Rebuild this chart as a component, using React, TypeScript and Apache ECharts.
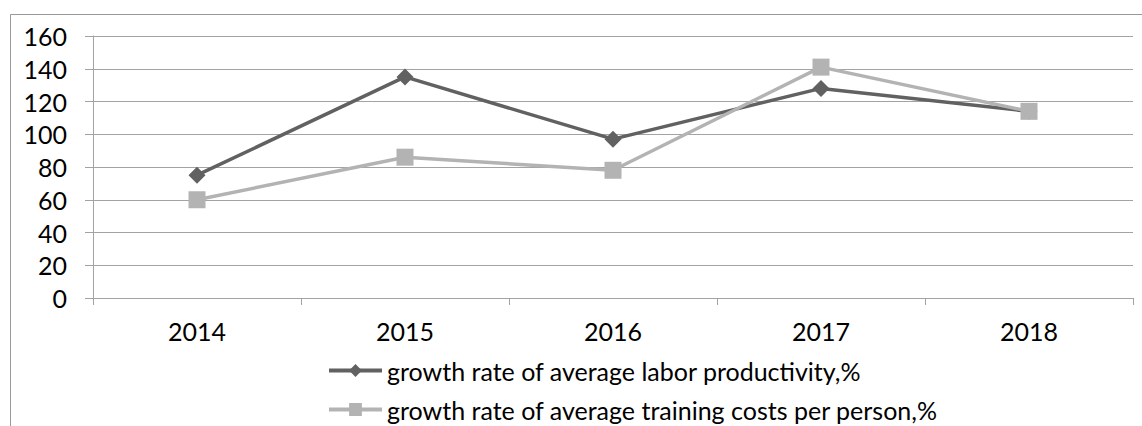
import React, { useEffect, useRef } from "react";
import * as echarts from "echarts";

const years = ["2014", "2015", "2016", "2017", "2018"];
const laborProductivity = [75, 135, 97, 128, 114];
const trainingCosts = [60, 86, 78, 141, 114];
const seriesNames = [
  "growth rate of average labor productivity,%",
  "growth rate of average training costs per person,%",
];

const FONT = "Lato, 'Open Sans', sans-serif";
const AXIS_GRAY = "#a3a3a3";
const FS = 25;

export default function App() {
  const ref = useRef<HTMLDivElement>(null);
  useEffect(() => {
    document.body.style.margin = "0";
    const chart = echarts.init(ref.current!, null, { renderer: "svg" });
    const legendCommon = {
      orient: "horizontal",
      left: 327,
      itemWidth: 53,
      itemHeight: 16,
      padding: 0,
      lineStyle: { width: 4 },
      textStyle: { color: "#000", fontFamily: FONT, fontSize: FS },
    };
    chart.setOption({
      animation: false,
      backgroundColor: "#ffffff",
      grid: { left: 93, right: 9, top: 36, bottom: 128 },
      graphic: [
        {
          type: "polyline",
          shape: { points: [[10.5, 440], [10.5, 14.5], [1150, 14.5]] },
          style: { stroke: "#999999", lineWidth: 1, fill: "none" },
          silent: true,
        },
      ],
      xAxis: {
        type: "category",
        data: years,
        boundaryGap: true,
        axisLine: { show: true, lineStyle: { color: AXIS_GRAY, width: 1 } },
        axisTick: { show: true, length: 7, lineStyle: { color: AXIS_GRAY } },
        axisLabel: { color: "#000", fontFamily: FONT, fontSize: FS, margin: 20 },
        splitLine: { show: false },
      },
      yAxis: {
        type: "value",
        min: 0,
        max: 160,
        interval: 20,
        axisLine: { show: true, lineStyle: { color: AXIS_GRAY, width: 1 } },
        axisTick: { show: true, length: 8, lineStyle: { color: AXIS_GRAY } },
        axisLabel: { color: "#000", fontFamily: FONT, fontSize: FS, margin: 26 },
        splitLine: { show: true, lineStyle: { color: AXIS_GRAY, width: 1 } },
      },
      legend: [
        { ...legendCommon, top: 358, data: [seriesNames[0]] },
        { ...legendCommon, top: 397, data: [seriesNames[1]] },
      ],
      series: [
        {
          name: seriesNames[0],
          type: "line",
          data: laborProductivity,
          symbol: "diamond",
          symbolSize: 17,
          lineStyle: { color: "#616161", width: 3.5 },
          itemStyle: { color: "#616161" },
        },
        {
          name: seriesNames[1],
          type: "line",
          data: trainingCosts,
          symbol: "rect",
          symbolSize: 17,
          lineStyle: { color: "#b3b3b3", width: 3.5 },
          itemStyle: { color: "#b3b3b3" },
        },
      ],
    });
    return () => chart.dispose();
  }, []);
  return <div ref={ref} style={{ width: 1142, height: 426 }} />;
}
